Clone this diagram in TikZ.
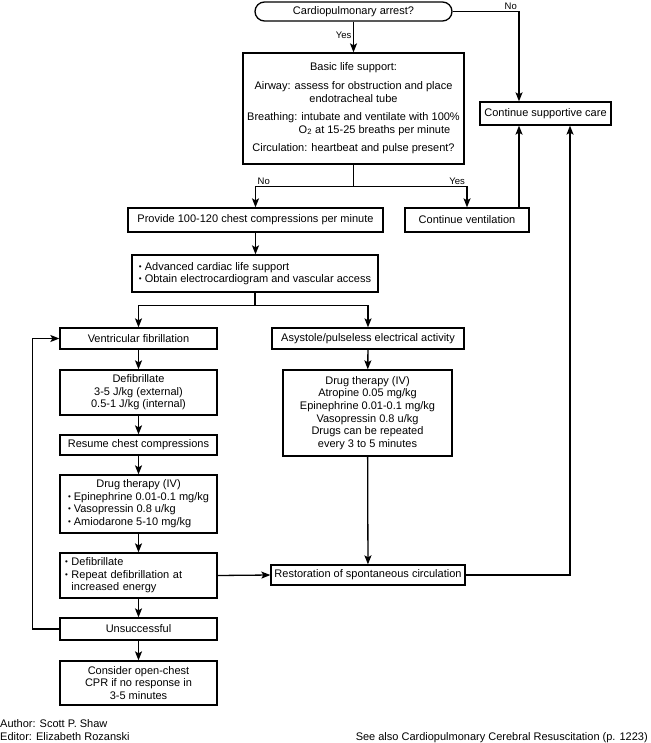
\documentclass[tikz,border=0pt]{standalone}
\usepackage{fontspec}
\setmainfont{Liberation Sans}
\usepackage{tikz}
\usetikzlibrary{arrows.meta,shapes}

\newcommand{\bul}{\raisebox{0.15ex}{\footnotesize\textbullet}\ }

\begin{document}
\begin{tikzpicture}[x=1pt,y=-1pt,>={Stealth[length=9pt,width=7pt,inset=2pt]},
font=\fontsize{11}{12.6}\selectfont,
box/.style={draw,line width=1.3pt,inner sep=0pt,align=center},
flow/.style={->,line width=1.3pt},
lbl/.style={inner sep=1.5pt,font=\fontsize{9.5}{11}\selectfont}]
\useasboundingbox[fill=white](0,0)rectangle(650,743);
\node[box,rounded corners=9.5pt,minimum width=197pt,minimum height=19pt](arrest)at(353.5,11.5){Cardiopulmonary arrest?};
\node[box,minimum width=221pt,minimum height=111pt](bls)at(353.5,108.5){Basic life support:\\[6pt]
Airway: assess for obstruction and place\\
endotracheal tube\\[6pt]
Breathing: intubate and ventilate with 100\%\\
\hspace*{42pt}O\textsubscript{2} at 15-25 breaths per minute\\[6pt]
Circulation: heartbeat and pulse present?};
\node[box,minimum width=131pt,minimum height=23pt](care)at(545.5,113.5){Continue supportive care};
\node[box,minimum width=255pt,minimum height=24pt](cpr)at(255.5,220){Provide 100-120 chest compressions per minute};
\node[box,minimum width=124pt,minimum height=24pt](vent)at(467,220){Continue ventilation};
\node[box,align=left,minimum width=246pt,minimum height=37pt](acls)at(255,273.5){\bul Advanced cardiac life support\\
\bul Obtain electrocardiogram and vascular access};
\node[box,minimum width=157pt,minimum height=21pt](vf)at(138.5,338.5){Ventricular fibrillation};
\node[box,minimum width=192pt,minimum height=21pt](asys)at(368,338.5){Asystole/pulseless electrical activity};
\node[box,minimum width=157pt,minimum height=45pt](defib)at(138.5,392.5){Defibrillate\\3-5 J/kg (external)\\0.5-1 J/kg (internal)};
\node[box,minimum width=157pt,minimum height=20pt](resume)at(138.5,445){Resume chest compressions};
\node[box,minimum width=169pt,minimum height=86pt](drugr)at(367.5,413){Drug therapy (IV)\\Atropine 0.05 mg/kg\\
Epinephrine 0.01-0.1 mg/kg\\Vasopressin 0.8 u/kg\\Drugs can be repeated\\every 3 to 5 minutes};
\node[box,minimum width=157pt,minimum height=58pt](drugl)at(138.5,504){\begin{tabular}{@{}l@{}}
\multicolumn{1}{@{}c@{}}{Drug therapy (IV)}\\
\bul Epinephrine 0.01-0.1 mg/kg\\
\bul Vasopressin 0.8 u/kg\\
\bul Amiodarone 5-10 mg/kg
\end{tabular}};
\node[box,align=left,text width=147pt,inner xsep=5pt,minimum height=45pt](defib2)at(138.5,575.5){\bul Defibrillate\\
\bul Repeat defibrillation at\\
\hphantom{\bul}increased energy};
\node[box,minimum width=194pt,minimum height=20pt](rosc)at(368,575){Restoration of spontaneous circulation};
\node[box,minimum width=157pt,minimum height=22pt](fail)at(138.5,629){Unsuccessful};
\node[box,minimum width=157pt,minimum height=44pt](open)at(138.5,683){Consider open-chest\\CPR if no response in\\3-5 minutes};
\coordinate(nox)at(519,0);
\coordinate(rx)at(570,0);
\draw[flow](arrest)--node[lbl,left,pos=0.45]{Yes}(bls);
\draw[flow](arrest.east)-|node[lbl,pos=0.5,anchor=south east]{No}(care.north-|nox);
\draw[flow](vent.north-|nox)--(care.south-|nox);
\draw[flow](rosc.east)-|(care.south-|rx);
\draw[line width=1.3pt](bls.south)--++(0,22)coordinate(s1);
\draw[flow](s1)-|node[lbl,pos=0.5,anchor=south west]{No}(cpr.north);
\draw[flow](s1)-|node[lbl,pos=0.5,anchor=south east]{Yes}(vent.north);
\draw[flow](cpr.south)--(cpr.south|-acls.north);
\draw[line width=1.3pt](acls.south)--++(0,13)coordinate(s2);
\draw[flow](s2)-|(vf.north);
\draw[flow](s2)-|(asys.north);
\foreach \a/\b in {vf/defib,defib/resume,resume/drugl,drugl/defib2,defib2/fail,fail/open,asys/drugr,drugr/rosc}
\draw[flow](\a)--(\b);
\draw[flow](defib2.east)--(rosc.west);
\draw[flow](fail.west)--++(-27,0)|-(vf.west);
\node[anchor=base west,inner sep=0pt](author)at(0,727){Author: Scott P. Shaw};
\node[anchor=base west,inner sep=0pt](editor)at(0,740.5){Editor: Elizabeth Rozanski};
\node[anchor=base east,inner sep=0pt](seealso)at(648,740.5){See also Cardiopulmonary Cerebral Resuscitation (p. 1223)};
\end{tikzpicture}
\end{document}
